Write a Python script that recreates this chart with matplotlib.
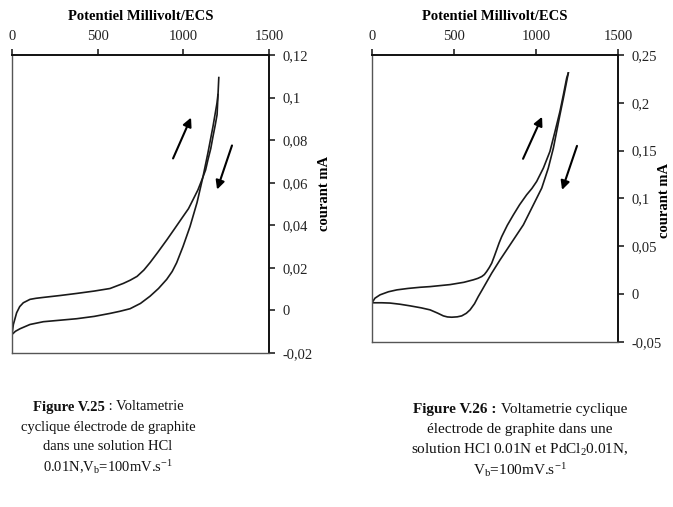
import matplotlib
matplotlib.use("Agg")
import matplotlib.pyplot as plt
from matplotlib.ticker import FixedLocator, FixedFormatter

plt.rcParams['font.family'] = ['Liberation Serif', 'DejaVu Serif']
plt.rcParams['mathtext.fontset'] = 'custom'
plt.rcParams['mathtext.rm'] = 'Liberation Serif'
plt.rcParams['mathtext.it'] = 'Liberation Serif:italic'
plt.rcParams['mathtext.bf'] = 'Liberation Serif:bold'

# ---------------- data: Figure V.25 (HCl 0.01N) ----------------
v25_fwd = [0, 8, 27, 45, 66, 105, 140, 181, 280, 379, 480, 572, 650, 690, 730, 770, 806, 850,
           905, 950, 998, 1030, 1057, 1085, 1109, 1130, 1144, 1160, 1173, 1186, 1197, 1207]
i25_fwd = [-0.0113, -0.0066, -0.0011, 0.0018, 0.0036, 0.0052, 0.0057, 0.0061, 0.0070, 0.0080,
           0.0091, 0.0103, 0.0127, 0.0142, 0.0160, 0.0190, 0.0225, 0.0272, 0.0333, 0.0385,
           0.0441, 0.0478, 0.0521, 0.0566, 0.0615, 0.0660, 0.0709, 0.0760, 0.0817, 0.0870,
           0.0920, 0.1094]
v25_rev = [0, 20, 47, 105, 183, 280, 377, 480, 572, 630, 689, 750, 806, 855, 903, 935, 961,
           998, 1039, 1080, 1115, 1144, 1173, 1197, 1202]
i25_rev = [-0.0113, -0.0098, -0.0086, -0.0066, -0.0053, -0.0046, -0.0039, -0.0028, -0.0014,
           -0.0004, 0.0008, 0.0033, 0.0067, 0.0103, 0.0146, 0.0183, 0.0224, 0.0300, 0.0394,
           0.0507, 0.0629, 0.0742, 0.0864, 0.0977, 0.1014]

# ---------------- data: Figure V.26 (HCl 0.01N + PdCl2 0.01N) ----------------
v26_fwd = [0, 18, 49, 100, 152, 220, 293, 354, 476, 560, 618, 645, 669, 685, 699, 715, 730,
           745, 760, 775, 791, 825, 862, 900, 943, 975, 1004, 1045, 1085, 1116, 1146, 1167,
           1187, 1197]
i26_fwd = [-0.0090, -0.0042, -0.0007, 0.0025, 0.0045, 0.0060, 0.0072, 0.0079, 0.0100, 0.0124,
           0.0150, 0.0165, 0.0184, 0.0205, 0.0236, 0.0278, 0.0324, 0.0392, 0.0463, 0.0535,
           0.0602, 0.0720, 0.0829, 0.0935, 0.1039, 0.1105, 0.1178, 0.1318, 0.1492, 0.1701,
           0.1910, 0.2085, 0.2259, 0.2312]
v26_rev = [0, 60, 110, 170, 232, 300, 354, 400, 435, 460, 486, 520, 547, 575, 598, 625, 648,
           670, 689, 730, 781, 842, 923, 984, 1035, 1075, 1106, 1126, 1146, 1167, 1187, 1197]
i26_rev = [-0.0090, -0.0090, -0.0093, -0.0105, -0.0122, -0.0143, -0.0164, -0.0198, -0.0227,
           -0.0238, -0.0241, -0.0237, -0.0227, -0.0200, -0.0164, -0.0100, -0.0025, 0.0040,
           0.0097, 0.0220, 0.0359, 0.0516, 0.0725, 0.0934, 0.1109, 0.1318, 0.1527, 0.1701,
           0.1875, 0.2050, 0.2224, 0.2312]

x_ticks = [0, 500, 1000, 1500]
x_ticklabels = ['0', '500', '1000', '1500']
y25_ticks = [-0.02, 0, 0.02, 0.04, 0.06, 0.08, 0.10, 0.12]
y25_ticklabels = ['-0,02', '0', '0,02', '0,04', '0,06', '0,08', '0,1', '0,12']
y26_ticks = [-0.05, 0, 0.05, 0.10, 0.15, 0.20, 0.25]
y26_ticklabels = ['-0,05', '0', '0,05', '0,1', '0,15', '0,2', '0,25']

# arrows (tail V, tail I, head V, head I)
arrows25 = [(940, 0.0714, 1045, 0.0906), (1284, 0.0775, 1197, 0.0568)]
arrows26 = [(921, 0.1415, 1037, 0.1854), (1250, 0.155, 1159, 0.109)]

xlabel = 'Potentiel Millivolt/ECS'
ylabel = 'courant mA'

W, H = 673, 507
fig = plt.figure(figsize=(W / 100, H / 100), dpi=100)


def make_axes(px_left, px_right, px_top, px_bottom):
    return fig.add_axes([px_left / W, 1 - px_bottom / H, (px_right - px_left) / W,
                         (px_bottom - px_top) / H])


def style(ax, yt, ytl, ylim):
    ax.set_xlim(0, 1500)
    ax.set_ylim(*ylim)
    ax.xaxis.tick_top()
    ax.yaxis.tick_right()
    ax.xaxis.set_major_locator(FixedLocator(x_ticks))
    ax.xaxis.set_major_formatter(FixedFormatter(x_ticklabels))
    ax.yaxis.set_major_locator(FixedLocator(yt))
    ax.yaxis.set_major_formatter(FixedFormatter(ytl))
    ax.tick_params(axis='both', direction='out', length=4, width=1.2, labelsize=10.5,
                   colors='#222222', pad=6)
    ax.tick_params(axis='x', pad=5)
    for s in ['top', 'right']:
        ax.spines[s].set_color('#111111')
        ax.spines[s].set_linewidth(1.4)
    for s in ['left', 'bottom']:
        ax.spines[s].set_color('#555555')
        ax.spines[s].set_linewidth(1.0)


def add_arrows(ax, arrs):
    for tv, ti, hv, hi in arrs:
        ax.annotate('', xy=(hv, hi), xytext=(tv, ti),
                    arrowprops=dict(arrowstyle='-|>', color='black', lw=1.5,
                                    mutation_scale=13, shrinkA=0, shrinkB=0))


ax1 = make_axes(12, 269, 55, 353)
ax1.plot(v25_fwd, i25_fwd, color='#1a1a1a', lw=1.2)
ax1.plot(v25_rev, i25_rev, color='#1a1a1a', lw=1.2)
style(ax1, y25_ticks, y25_ticklabels, (-0.02, 0.12))
add_arrows(ax1, arrows25)

ax2 = make_axes(372, 618, 55, 342)
ax2.plot(v26_fwd, i26_fwd, color='#1a1a1a', lw=1.2)
ax2.plot(v26_rev, i26_rev, color='#1a1a1a', lw=1.2)
style(ax2, y26_ticks, y26_ticklabels, (-0.05, 0.25))
add_arrows(ax2, arrows26)

# axis titles
fig.text(140.5 / W, 1 - 17 / H, xlabel, ha='center', va='center', fontsize=10.5,
         fontweight='bold')
fig.text(495 / W, 1 - 17 / H, xlabel, ha='center', va='center', fontsize=10.5,
         fontweight='bold')
fig.text(325 / W, 1 - 193 / H, ylabel, ha='center', va='center', fontsize=10.5,
         fontweight='bold', rotation=90)
fig.text(664 / W, 1 - 200 / H, ylabel, ha='center', va='center', fontsize=10.5,
         fontweight='bold', rotation=90)

# captions
renderer = fig.canvas.get_renderer()


def two_part(xc_px, y_px, bold, normal, size):
    t1 = fig.text(0, 1 - y_px / H, bold, ha='left', va='center', fontsize=size,
                  fontweight='bold', color='#111111')
    t2 = fig.text(0, 1 - y_px / H, normal, ha='left', va='center', fontsize=size,
                  color='#111111')
    w1 = t1.get_window_extent(renderer).width
    w2 = t2.get_window_extent(renderer).width
    x0 = xc_px - (w1 + w2) / 2
    t1.set_x(x0 / W)
    t2.set_x((x0 + w1) / W)


cap25_head = ('Figure V.25', '\u00a0: Voltametrie')
cap25 = ['cyclique électrode de graphite',
         'dans une solution HCl',
         r'0.01N,V$_{\mathrm{b}}$=100mV.s$^{\mathrm{-1}}$']
cap25_y = [407, 427, 447, 467]
cap26_head = ('Figure V.26 :', '\u00a0Voltametrie cyclique')
cap26 = ['électrode de graphite dans une',
         r'solution HCl 0.01N et PdCl$_{\mathrm{2}}$0.01N,',
         r'V$_{\mathrm{b}}$=100mV.s$^{\mathrm{-1}}$']
cap26_y = [410, 430, 450, 470]

two_part(108, cap25_y[0], cap25_head[0], cap25_head[1], 10.5)
for t, y in zip(cap25, cap25_y[1:]):
    fig.text(108 / W, 1 - y / H, t, ha='center', va='center', fontsize=10.5, color='#111111')
two_part(520, cap26_y[0], cap26_head[0], cap26_head[1], 11)
for t, y in zip(cap26, cap26_y[1:]):
    fig.text(520 / W, 1 - y / H, t, ha='center', va='center', fontsize=11, color='#111111')

fig.savefig('out.png', dpi=100)
